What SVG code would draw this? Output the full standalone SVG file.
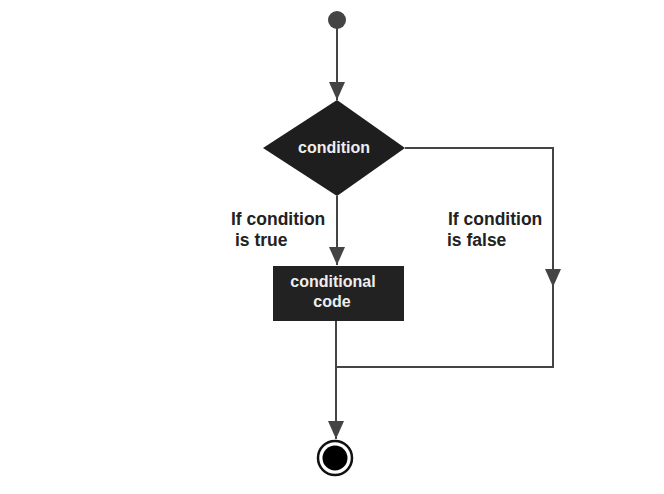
<svg xmlns="http://www.w3.org/2000/svg" width="664" height="494" viewBox="0 0 664 494">
<defs>
<style>
.ln{fill:none;stroke:#444;stroke-width:2}
.lbl{font-family:"Liberation Sans",Arial,sans-serif;font-weight:bold;font-size:17.5px;fill:#222}
.wt{font-family:"Liberation Sans",Arial,sans-serif;font-weight:bold;font-size:16px;fill:#eee;text-anchor:middle}
</style>
<marker id="ah" markerWidth="18" markerHeight="18" refX="18" refY="8" orient="auto" markerUnits="userSpaceOnUse">
<path d="M0,0 L18,8 L0,16 Z" fill="#444"/>
</marker>
</defs>
<rect width="664" height="494" fill="#fff"/>
<g id="connectors">
<line class="ln" x1="337" y1="28" x2="337" y2="100" marker-end="url(#ah)"/>
<line class="ln" x1="337" y1="196" x2="337" y2="265" marker-end="url(#ah)"/>
<polyline class="ln" points="405,148 553,148 553,287" marker-end="url(#ah)"/>
<polyline class="ln" points="553,280 553,367 337,367"/>
<line class="ln" x1="336" y1="321" x2="336" y2="439" marker-end="url(#ah)"/>
</g>
<g id="start"><circle cx="337" cy="20" r="9" fill="#444"/></g>
<g id="condition">
<polygon points="337,100 405,148 337,196 263,148" fill="#1e1e1e"/>
<text class="wt" x="334" y="153">condition</text>
</g>
<g id="code">
<rect x="273" y="266" width="131" height="55" fill="#222"/>
<text class="wt" x="333" y="287">conditional</text>
<text class="wt" x="332" y="307">code</text>
</g>
<g id="end">
<circle cx="335" cy="458" r="17" fill="#fff" stroke="#111" stroke-width="2.5"/>
<circle cx="335" cy="458" r="12.5" fill="#000"/>
</g>
<g id="labels">
<text class="lbl" x="231" y="225">If condition</text>
<text class="lbl" x="235" y="246">is true</text>
<text class="lbl" x="448" y="225">If condition</text>
<text class="lbl" x="447" y="246">is false</text>
</g>
</svg>
